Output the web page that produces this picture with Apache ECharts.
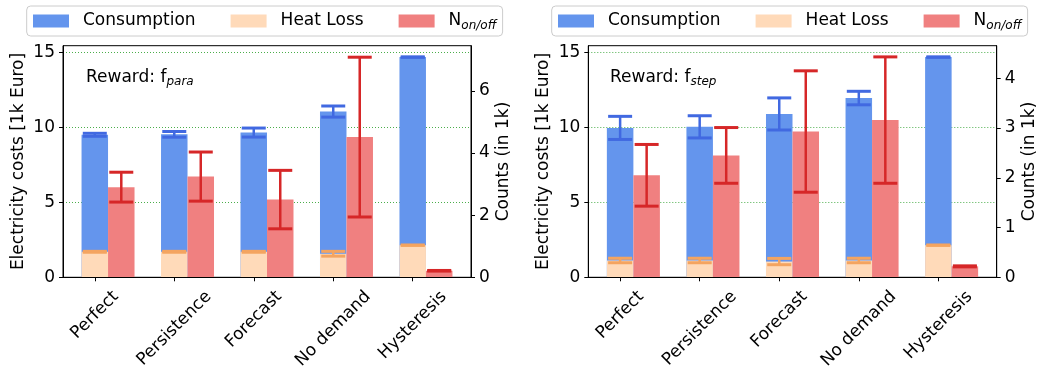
<!DOCTYPE html>
<html>
<head>
<meta charset="utf-8">
<script src="https://cdn.jsdelivr.net/npm/echarts@6/dist/echarts.min.js"></script>
<style>
  html, body { margin: 0; padding: 0; background: #fff; }
  #chart { width: 1037px; height: 372px; }
</style>
</head>
<body>
<div id="chart"></div>
<script>
// ---- data -------------------------------------------------------------
const methods = ['Perfect', 'Persistence', 'Forecast', 'No demand', 'Hysteresis'];
const rewardNames = ['para', 'step'];

// reward f_para: costs in 1k Euro, switch counts in 1k
const paraConsumption    = [9.50, 9.53, 9.65, 11.05, 14.68];
const paraConsumptionErr = [0.10, 0.19, 0.30, 0.37, 0.01];
const paraHeatLoss       = [1.70, 1.70, 1.70, 1.57, 2.14];
const paraHeatLossErr    = [0.03, 0.03, 0.03, 0.16, 0.01];
const paraSwitches       = [2.90, 3.24, 2.50, 4.51, 0.21];
const paraSwitchesErr    = [0.48, 0.79, 0.94, 2.57, 0.01];

// reward f_step
const stepConsumption    = [9.96, 10.03, 10.89, 11.95, 14.68];
const stepConsumptionErr = [0.77, 0.74, 1.07, 0.45, 0.01];
const stepHeatLoss       = [1.12, 1.12, 1.05, 1.12, 2.14];
const stepHeatLossErr    = [0.15, 0.15, 0.21, 0.15, 0.01];
const stepSwitches       = [2.05, 2.45, 2.93, 3.16, 0.22];
const stepSwitchesErr    = [0.62, 0.56, 1.22, 1.27, 0.01];

// axis ticks
const categoryTicks  = [0, 1, 2, 3, 4];
const costTicks      = [0, 5, 10, 15];
const costGridLines  = [5, 10, 15];
const paraCountTicks = [0, 2, 4, 6];
const stepCountTicks = [0, 1, 2, 3, 4];

// ---- styling ------------------------------------------------------------
const FONT = 'DejaVu Sans';
const FS = 17;
const BAR_W = 1 / 3;
const CAP = 12;
const COLORS = {
  consumption: '#6495ED', consumptionErr: '#4169E1',
  heat: '#FFDAB9', heatErr: '#F4A460',
  switches: '#F08080', switchesErr: '#D62728'
};

// Rotated category labels: each rotated box is centred under its tick and all
// share the same top edge. The label anchor sits at the box centre; a small
// per-label padding shifts the text along its diagonal to line the tops up.
function textWidth(s) {
  const ctx = document.createElement('canvas').getContext('2d');
  ctx.font = FS + 'px "' + FONT + '"';
  return ctx.measureText(s).width;
}
const AXIS_Y = 277.3, LABEL_TOP = 288;
const labelWidths = methods.map(textWidth);
const meanWidth = labelWidths.reduce((a, b) => a + b, 0) / labelWidths.length;
const LABEL_MARGIN = (LABEL_TOP - AXIS_Y) + Math.SQRT1_2 * (meanWidth + FS) / 2;
const xRich = {};
labelWidths.forEach((w, i) => {
  const d = Math.SQRT1_2 * (w - meanWidth) / 2;
  const p = Math.SQRT2 * Math.abs(d);
  xRich['c' + i] = {
    fontSize: FS, fontFamily: FONT, color: '#000', lineHeight: FS,
    padding: d > 0 ? [p, p, 0, 0] : [0, 0, p, p]
  };
});

function rows(vals, errs) {
  return vals.map((v, i) => [i, v, errs[i]]);
}

function barWithError(offset, color, errColor) {
  return function (params, api) {
    const x = api.value(0) + offset;
    const v = api.value(1);
    const e = api.value(2);
    const tl = api.coord([x - BAR_W / 2, v]);
    const br = api.coord([x + BAR_W / 2, 0]);
    const top = api.coord([x, v + e]);
    const bot = api.coord([x, v - e]);
    const cx = (tl[0] + br[0]) / 2;
    return {
      type: 'group',
      children: [
        { type: 'rect', shape: { x: tl[0], y: tl[1], width: br[0] - tl[0], height: br[1] - tl[1] },
          style: { fill: color } },
        { type: 'line', shape: { x1: cx, y1: top[1], x2: cx, y2: bot[1] },
          style: { stroke: errColor, lineWidth: 2.5 } },
        { type: 'line', shape: { x1: cx - CAP, y1: top[1], x2: cx + CAP, y2: top[1] },
          style: { stroke: errColor, lineWidth: 3 } },
        { type: 'line', shape: { x1: cx - CAP, y1: bot[1], x2: cx + CAP, y2: bot[1] },
          style: { stroke: errColor, lineWidth: 3 } }
      ]
    };
  };
}

function panelSeries(gi, consumption, consErr, heat, heatErr, sw, swErr) {
  const costAxis = gi * 2, countAxis = gi * 2 + 1;
  return [
    {
      type: 'line', xAxisIndex: gi, yAxisIndex: costAxis, data: [], silent: true, z: 1,
      markLine: {
        silent: true, symbol: 'none', z: 1, label: { show: false },
        lineStyle: { color: '#2ca02c', width: 1, type: [1, 2], opacity: 0.85 },
        data: costGridLines.map(v => ({ yAxis: v }))
      }
    },
    {
      name: 'Consumption', type: 'custom', xAxisIndex: gi, yAxisIndex: costAxis,
      itemStyle: { color: COLORS.consumption }, encode: { x: 0, y: 1 },
      renderItem: barWithError(0, COLORS.consumption, COLORS.consumptionErr),
      data: rows(consumption, consErr)
    },
    {
      name: 'Heat Loss', type: 'custom', xAxisIndex: gi, yAxisIndex: costAxis,
      itemStyle: { color: COLORS.heat }, encode: { x: 0, y: 1 },
      renderItem: barWithError(0, COLORS.heat, COLORS.heatErr),
      data: rows(heat, heatErr)
    },
    {
      name: 'N_on/off', type: 'custom', xAxisIndex: gi, yAxisIndex: countAxis,
      itemStyle: { color: COLORS.switches }, encode: { x: 0, y: 1 },
      renderItem: barWithError(BAR_W, COLORS.switches, COLORS.switchesErr),
      data: rows(sw, swErr)
    }
  ];
}

const legendRich = {
  t: { fontSize: FS, fontFamily: FONT, color: '#000', lineHeight: FS, padding: [0, 0, 0, 9], verticalAlign: 'top' },
  s: { fontSize: 12, fontFamily: FONT, fontStyle: 'italic', color: '#000', lineHeight: 12, padding: [7, 0, 0, 0], verticalAlign: 'top' }
};
function legendAt(left) {
  return {
    left: left, top: 6, orient: 'horizontal',
    data: ['Consumption', 'Heat Loss', 'N_on/off'].map(n => ({ name: n, icon: 'rect' })),
    itemWidth: 36, itemHeight: 13, itemGap: 35,
    padding: [6.5, 6.3, 4.5, 6.3],
    backgroundColor: '#fff', borderColor: '#cccccc', borderWidth: 1, borderRadius: 4,
    selectedMode: false,
    textStyle: { fontSize: FS, fontFamily: FONT, color: '#000', rich: legendRich },
    formatter: name => {
      const p = name.split('_');
      return p.length > 1 ? '{t|' + p[0] + '}{s|' + p[1] + '}' : '{t|' + name + '}';
    }
  };
}

function gridAt(left, width) {
  return {
    left: left, top: 45.7, width: width, height: 231.6,
    show: true, borderColor: '#000', borderWidth: 1, backgroundColor: 'transparent',
    containLabel: false, outerBoundsMode: 'none'
  };
}

function xAxisFor(gi) {
  return {
    gridIndex: gi, type: 'value', min: -0.4, max: 4.7333, z: 5,
    axisLine: { show: true, onZero: false, lineStyle: { color: '#000', width: 1 } },
    axisTick: { show: true, length: 4, customValues: categoryTicks, lineStyle: { color: '#000' } },
    axisLabel: {
      customValues: categoryTicks, rotate: 45, align: 'center', verticalAlign: 'middle',
      margin: LABEL_MARGIN,
      showMinLabel: true, showMaxLabel: true, hideOverlap: false,
      fontSize: FS, fontFamily: FONT, color: '#000',
      formatter: v => '{c' + v + '|' + methods[v] + '}', rich: xRich
    },
    splitLine: { show: false }
  };
}

function yAxisFor(gi, pos, max, ticks, name, gap) {
  return {
    gridIndex: gi, type: 'value', position: pos, min: 0, max: max, z: 5,
    name: name, nameLocation: 'middle', nameGap: gap, nameRotate: 90, nameMoveOverlap: false,
    nameTextStyle: { fontSize: FS, fontFamily: FONT, color: '#000' },
    axisLine: { show: true, onZero: false, lineStyle: { color: '#000', width: 1 } },
    axisTick: { show: true, length: 4, customValues: ticks, lineStyle: { color: '#000' } },
    axisLabel: { customValues: ticks, fontSize: FS, fontFamily: FONT, color: '#000', margin: 8 },
    splitLine: { show: false }
  };
}

function rewardLabel(x, sub) {
  return {
    type: 'text', x: x, y: 69.5, z: 10,
    style: {
      text: '{a|Reward: f}{s|' + sub + '}',
      align: 'left', verticalAlign: 'top',
      rich: {
        a: { fontSize: FS, fontFamily: FONT, fill: '#000', color: '#000', lineHeight: FS, verticalAlign: 'top' },
        s: { fontSize: 12, fontFamily: FONT, fontStyle: 'italic', fill: '#000', color: '#000', lineHeight: 12,
             padding: [6, 0, 0, 0], verticalAlign: 'top' }
      }
    }
  };
}

const COST_NAME = 'Electricity costs [1k Euro]';
const COUNT_NAME = 'Counts (in 1k)';

const option = {
  animation: false,
  backgroundColor: '#fff',
  textStyle: { fontFamily: FONT },
  legend: [legendAt(26.7), legendAt(551.7)],
  grid: [gridAt(63, 408), gridAt(588.3, 408.4)],
  xAxis: [xAxisFor(0), xAxisFor(1)],
  yAxis: [
    yAxisFor(0, 'left', 15.44, costTicks, COST_NAME, 36),
    yAxisFor(0, 'right', 7.45, paraCountTicks, COUNT_NAME, 24),
    yAxisFor(1, 'left', 15.44, costTicks, COST_NAME, 36),
    yAxisFor(1, 'right', 4.655, stepCountTicks, COUNT_NAME, 24)
  ],
  graphic: [rewardLabel(86, rewardNames[0]), rewardLabel(610, rewardNames[1])],
  series: [
    ...panelSeries(0, paraConsumption, paraConsumptionErr, paraHeatLoss, paraHeatLossErr, paraSwitches, paraSwitchesErr),
    ...panelSeries(1, stepConsumption, stepConsumptionErr, stepHeatLoss, stepHeatLossErr, stepSwitches, stepSwitchesErr)
  ]
};

const chart = echarts.init(document.getElementById('chart'), null, { renderer: 'canvas' });
chart.setOption(option);
</script>
</body>
</html>
